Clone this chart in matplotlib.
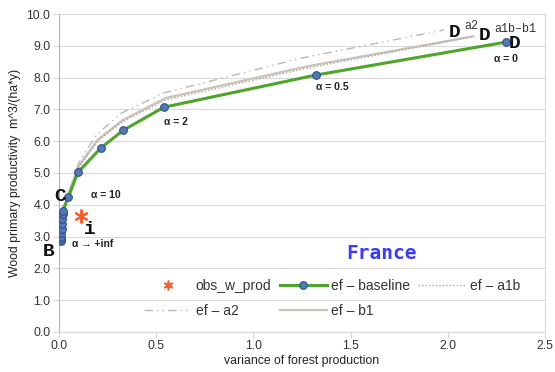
import matplotlib
matplotlib.use("Agg")
import matplotlib.pyplot as plt
from matplotlib.lines import Line2D

# ---- data ----
base_x = [0.010, 0.010, 0.011, 0.012, 0.014, 0.016, 0.018, 0.020, 0.021,
          0.048, 0.098, 0.215, 0.33, 0.54, 1.32, 2.30]
base_y = [2.85, 2.92, 3.00, 3.12, 3.25, 3.40, 3.55, 3.70, 3.80,
          4.23, 5.02, 5.78, 6.34, 7.07, 8.08, 9.12]

a1b_x = [0.012, 0.022, 0.050, 0.10, 0.20, 0.33, 0.55, 1.28, 2.12]
a1b_y = [2.95, 3.85, 4.35, 5.15, 6.00, 6.62, 7.30, 8.30, 9.28]

b1_x = [0.012, 0.022, 0.052, 0.10, 0.20, 0.33, 0.55, 1.28, 2.13]
b1_y = [2.95, 3.87, 4.38, 5.20, 6.05, 6.67, 7.36, 8.36, 9.30]

a2_x = [0.012, 0.022, 0.055, 0.10, 0.19, 0.32, 0.54, 1.25, 1.98]
a2_y = [3.00, 3.95, 4.45, 5.28, 6.18, 6.88, 7.52, 8.62, 9.50]

obs_x = [0.113]
obs_y = [3.66]

xticks = [0.0, 0.5, 1.0, 1.5, 2.0, 2.5]
yticks = [0.0, 1.0, 2.0, 3.0, 4.0, 5.0, 6.0, 7.0, 8.0, 9.0, 10.0]

plt.rcParams['font.family'] = ['Liberation Sans', 'DejaVu Sans']

fig = plt.figure(figsize=(5.55, 3.72), dpi=100)
ax = fig.add_axes([0.106, 0.108, 0.876, 0.854])

grid_c = '#d9d9d9'
ax.set_xlim(0, 2.5)
ax.set_ylim(0, 10)
ax.set_xticks(xticks)
ax.set_yticks(yticks)
ax.set_xticklabels([f"{v:.1f}" for v in xticks])
ax.set_yticklabels([f"{v:.1f}" for v in yticks])
ax.yaxis.grid(True, color=grid_c, lw=0.8)
ax.set_axisbelow(True)
ax.spines['top'].set_visible(False)
ax.spines['left'].set_color('#b3b3b3')
ax.spines['bottom'].set_color(grid_c)
ax.spines['right'].set_color(grid_c)
ax.tick_params(axis='both', colors=grid_c, labelcolor='#333333', labelsize=8.8,
               length=4, width=0.8, pad=2)

ax.plot(a2_x, a2_y, color='#b8b8b8', lw=1.0, ls=(0, (6, 3, 1, 3, 1, 3)), zorder=2)
ax.plot(b1_x, b1_y, color='#c9c2b6', lw=1.6, zorder=2)
ax.plot(a1b_x, a1b_y, color='#a8a8a8', lw=1.0, ls=(0, (1, 1.5)), zorder=2)
ax.plot(base_x, base_y, color='#4da52a', lw=2.2, marker='o', ms=5.5,
        mfc='#5278b8', mec='#2f4f8f', mew=0.8, zorder=3)
ax.plot(obs_x, obs_y, ls='none', marker=(6, 2, 0), ms=10, mew=1.4,
        color='#ff5a2a', zorder=4)

ax.set_xlabel("variance of forest production", fontsize=8.8, color='#222222', labelpad=2)
ax.set_ylabel("Wood primary productivity  m^3/(ha*y)", fontsize=8.8, color='#222222', labelpad=4)

mono = ['Liberation Mono', 'DejaVu Sans Mono']
big = dict(family=mono, fontweight='bold', fontsize=14, color='#111111')
ax.text(0.036, 4.25, "C", ha='right', va='center', **big)
ax.text(-0.055, 2.52, "B", ha='center', va='center', **big)
ax.text(0.16, 3.22, "i", ha='center', va='center', **big)
ax.text(2.315, 9.08, "D", ha='left', va='center', **big)
ax.text(2.035, 9.42, "D", ha='center', va='center', **big)
ax.text(2.085, 9.63, "a2", ha='left', va='center', family=mono, fontsize=8.5, color='#333333')
ax.text(2.19, 9.32, "D", ha='center', va='center', **big)
ax.text(2.24, 9.53, "a1b\u2013b1", ha='left', va='center', family=mono, fontsize=8.5, color='#333333')

al = dict(fontsize=7.5, fontweight='bold', color='#222222')
ax.text(0.165, 4.30, "\u03b1 = 10", ha='left', va='center', **al)
ax.text(0.07, 2.78, "\u03b1 \u2192 +inf", ha='left', va='center', **al)
ax.text(0.54, 6.62, "\u03b1 = 2", ha='left', va='center', **al)
ax.text(1.32, 7.70, "\u03b1 = 0.5", ha='left', va='center', **al)
ax.text(2.30, 8.60, "\u03b1 = 0", ha='center', va='center', **al)

ax.text(1.48, 2.47, "France", ha='left', va='center', family=['DejaVu Sans Mono'],
        fontweight='bold', fontsize=14, color='#3a3aff')

handles = [
    Line2D([], [], ls='none', marker=(6, 2, 0), ms=7, mew=1.2, color='#ff5a2a'),
    Line2D([], [], color='#b8b8b8', lw=1.0, ls=(0, (6, 3, 1, 3, 1, 3))),
    Line2D([], [], color='#4da52a', lw=2.2, marker='o', ms=5.5,
           mfc='#5278b8', mec='#2f4f8f', mew=0.8),
    Line2D([], [], color='#c9c2b6', lw=1.6),
    Line2D([], [], color='#a8a8a8', lw=1.0, ls=(0, (1, 1.5))),
]
labels = ["obs_w_prod", "ef \u2013 a2", "ef \u2013 baseline", "ef \u2013 b1", "ef \u2013 a1b"]
leg = ax.legend(handles, labels, ncol=3, loc='center', bbox_to_anchor=(0.562, 0.1045),
                frameon=False, fontsize=10, handlelength=3.4, handletextpad=0.3,
                columnspacing=0.6, labelspacing=0.8, borderpad=0)
for t in leg.get_texts():
    t.set_color('#333333')

fig.savefig("out.png", dpi=100)
